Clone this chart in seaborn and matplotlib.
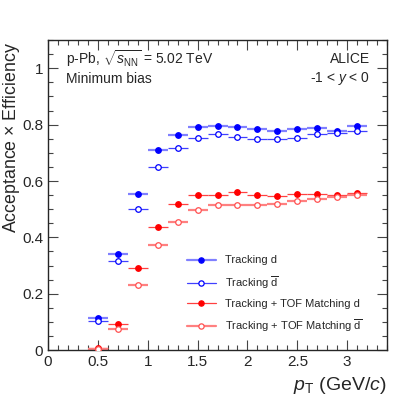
import numpy as np
import pandas as pd
import matplotlib
matplotlib.use("Agg")
import matplotlib.pyplot as plt
from matplotlib.lines import Line2D
from matplotlib.ticker import MultipleLocator
import seaborn as sns

# --- Data ---
pt = [0.5, 0.7, 0.9, 1.1, 1.3, 1.5, 1.7, 1.9, 2.1, 2.3, 2.5, 2.7, 2.9, 3.1]
pt_halfwidth = 0.1

trk_d = [0.115, 0.342, 0.555, 0.710, 0.762, 0.790, 0.795, 0.793, 0.786, 0.777,
         0.784, 0.788, 0.779, 0.797]
trk_dbar = [0.105, 0.316, 0.502, 0.650, 0.718, 0.752, 0.766, 0.756, 0.748, 0.749,
            0.752, 0.767, 0.769, 0.776]
tof_d = [0.008, 0.092, 0.290, 0.436, 0.520, 0.551, 0.552, 0.562, 0.549, 0.547,
         0.554, 0.554, 0.551, 0.559]
tof_dbar = [0.004, 0.074, 0.232, 0.372, 0.455, 0.498, 0.515, 0.516, 0.514, 0.518,
            0.529, 0.536, 0.542, 0.551]

labels = ["Tracking d", r"Tracking $\overline{\rm d}$",
          "Tracking + TOF Matching d", r"Tracking + TOF Matching $\overline{\rm d}$"]

df = pd.DataFrame({
    "pt": pt * 4,
    "eff": trk_d + trk_dbar + tof_d + tof_dbar,
    "series": sum([[lab] * len(pt) for lab in labels], []),
})

# marker colour, bar colour, filled?, bar width
styles = {
    labels[0]: ("#0000ff", "#8080ff", True, 1.6),
    labels[1]: ("#0000ff", "#4040ff", False, 0.9),
    labels[2]: ("#ff0000", "#ff4040", True, 0.9),
    labels[3]: ("#ff5050", "#ff8080", False, 1.6),
}

# --- Style ---
sns.set_style("ticks")
plt.rcParams["font.family"] = ["Liberation Sans", "DejaVu Sans"]
plt.rcParams["mathtext.fontset"] = "custom"
plt.rcParams["mathtext.rm"] = "Liberation Sans"
plt.rcParams["mathtext.it"] = "Liberation Sans:italic"
plt.rcParams["mathtext.bf"] = "Liberation Sans:bold"

fig = plt.figure(figsize=(4.07, 3.97), dpi=100)
ax = fig.add_axes([0.118, 0.118, 0.833, 0.781])

handles = []
for lab in labels:
    mcol, bcol, filled, blw = styles[lab]
    sub = df[df["series"] == lab]
    ax.errorbar(sub["pt"], sub["eff"], xerr=pt_halfwidth, fmt="none",
                ecolor=bcol, elinewidth=blw, capsize=0)
    sns.scatterplot(x=sub["pt"], y=sub["eff"], ax=ax, marker="o", s=16,
                    facecolor=mcol if filled else "white", edgecolor=mcol,
                    linewidth=0.9, zorder=3, legend=False)
    handles.append(Line2D([0], [0], color=bcol, lw=blw, marker="o", markersize=3.8,
                          markerfacecolor=mcol if filled else "white",
                          markeredgecolor=mcol, markeredgewidth=0.9, label=lab))

ax.set_xlim(0, 3.4)
ax.set_ylim(0, 1.1)
ax.xaxis.set_major_locator(MultipleLocator(0.5))
ax.xaxis.set_minor_locator(MultipleLocator(0.1))
ax.yaxis.set_major_locator(MultipleLocator(0.2))
ax.yaxis.set_minor_locator(MultipleLocator(0.05))
ax.xaxis.set_major_formatter(plt.FuncFormatter(lambda v, p: f"{v:g}"))
ax.yaxis.set_major_formatter(plt.FuncFormatter(lambda v, p: f"{v:g}"))
ax.tick_params(which="both", direction="in", top=True, right=True, labelsize=11,
               width=0.8, color="#444444")
ax.tick_params(which="major", length=7)
ax.tick_params(which="minor", length=3.5)
for sp in ax.spines.values():
    sp.set_linewidth(1.0)

ax.set_xlabel(r"$p_{\rm T}$ (GeV/$c$)", fontsize=14, loc="right")
ax.set_ylabel(r"Acceptance $\times$ Efficiency", fontsize=12.8, loc="top")
ax.yaxis.set_label_coords(-0.078, 0.994)

ax.text(0.054, 0.94, r"p-Pb, $\sqrt{s_{\rm NN}}$ = 5.02 TeV", transform=ax.transAxes,
        fontsize=10, ha="left", va="center")
ax.text(0.054, 0.875, "Minimum bias", transform=ax.transAxes,
        fontsize=10, ha="left", va="center")
ax.text(0.95, 0.94, "ALICE", transform=ax.transAxes,
        fontsize=10, ha="right", va="center")
ax.text(0.95, 0.875, r"-1 < $y$ < 0", transform=ax.transAxes,
        fontsize=10, ha="right", va="center")

ax.legend(handles=handles, loc="lower left", bbox_to_anchor=(0.38, 0.02),
          frameon=False, fontsize=8, handlelength=2.6, labelspacing=0.75,
          handletextpad=0.8)

fig.savefig("out.png", dpi=100)
